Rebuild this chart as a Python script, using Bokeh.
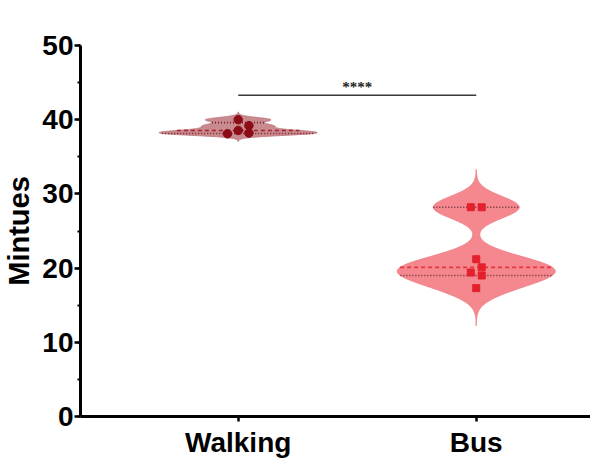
import numpy as np
from bokeh.plotting import figure
from bokeh.models import FixedTicker, SingleIntervalTicker, Range1d
from bokeh.embed import file_html
from bokeh.resources import INLINE

# ---- data ----
categories = ["Walking", "Bus"]
walking_minutes = [40.0, 39.2, 38.1, 38.55, 38.2]
bus_minutes = [28.2, 28.2, 21.2, 20.1, 19.4, 19.0, 17.3]
y_ticks = [0, 10, 20, 30, 40, 50]
sig_label = "****"
sig_level = [43.3]

# ---- styling / layout ----
walking_jitter = [0.0, 0.045, -0.045, 0.0, 0.045]
bus_jitter = [-0.023, 0.023, 0.0, 0.023, -0.023, 0.023, 0.0]
bandwidths = [0.3, 1.45]
fills = ["#c98a8f", "#f4888e"]
edges = ["#bf7c82", "#f08188"]
point_colors = ["#8c0c16", "#e3202c"]
median_colors = ["#a8202e", "#e53540"]
quart_colors = ["#7a1a26", "#5e2a2e"]
half_max = 0.332

FONT = "Liberation Sans"

p = figure(width=590, height=469, output_backend="svg", toolbar_location=None,
           x_range=Range1d(0.3375, 2.48), y_range=Range1d(0, 50),
           min_border_left=79, min_border_right=0, min_border_top=45,
           min_border_bottom=53)
p.outline_line_color = None
p.grid.visible = False
p.background_fill_color = "white"


def kde(data, h, grid):
    d = np.asarray(data)[:, None]
    return np.exp(-0.5 * ((grid[None, :] - d) / h) ** 2).sum(axis=0)


def quartiles(vals):
    s = sorted(vals)
    n = len(s)
    med = float(np.median(s))
    if n % 2 == 1:
        lo, hi = s[: n // 2], s[n // 2 + 1:]
    else:
        lo, hi = s[: n // 2], s[n // 2:]
    return float(np.median(lo)), med, float(np.median(hi))


groups = [walking_minutes, bus_minutes]
jitters = [walking_jitter, bus_jitter]
markers = ["circle", "square"]
msizes = [8.5, 7]

for i, vals in enumerate(groups):
    c = i + 1
    h = bandwidths[i]
    grid = np.linspace(min(vals) - 3.5 * h, max(vals) + 3.5 * h, 400)
    dens = kde(vals, h, grid)
    hw = dens / dens.max() * half_max
    xs = np.concatenate([c + hw, (c - hw)[::-1]])
    ys = np.concatenate([grid, grid[::-1]])
    p.patch(xs, ys, fill_color=fills[i], line_color=edges[i], line_width=1)

    q1, med, q3 = quartiles(vals)
    for yv, col, dash in [(q1, quart_colors[i], "1 2"), (q3, quart_colors[i], "1 2"),
                          (med, median_colors[i], "4 3")]:
        w = float(np.interp(yv, grid, hw))
        p.line([c - w, c + w], [yv, yv], line_color=col, line_width=1.6,
               line_dash=dash)

    xs_pts = [c + j for j in jitters[i]]
    p.scatter(xs_pts, vals, marker=markers[i], size=msizes[i],
              fill_color=point_colors[i], line_color=point_colors[i])

# significance bar
p.line([1, 2], [sig_level[0], sig_level[0]], line_color="#3a3a3a", line_width=1.6)
p.text([1.5], [sig_level[0] + 1.1], text=[sig_label], text_align="center",
       text_baseline="middle", text_font_size="15px", text_font_style="bold",
       text_color="#222222", text_font=FONT)

# axes
for ax in (p.xaxis[0], p.yaxis[0]):
    ax.axis_line_width = 3
    ax.axis_line_color = "black"
    ax.major_tick_line_width = 2.5
    ax.major_tick_line_color = "black"
    ax.major_tick_in = 0
    ax.major_label_text_font = FONT
    ax.major_label_text_font_style = "bold"
    ax.major_label_text_font_size = "28px"
    ax.major_label_text_color = "black"

p.xaxis.ticker = FixedTicker(ticks=[1, 2])
p.xaxis.major_label_overrides = {1: categories[0], 2: categories[1]}
p.xaxis.major_tick_out = 5
p.xaxis.minor_tick_line_color = None
p.xaxis.major_label_standoff = 5

p.yaxis.ticker = SingleIntervalTicker(interval=10, num_minor_ticks=2)
p.yaxis.major_tick_out = 6
p.yaxis.minor_tick_out = 3
p.yaxis.minor_tick_in = 0
p.yaxis.minor_tick_line_width = 2
p.yaxis.minor_tick_line_color = "black"
p.yaxis.major_label_standoff = 1
p.yaxis.axis_label = "Mintues"
p.yaxis.axis_label_text_font = FONT
p.yaxis.axis_label_text_font_style = "bold"
p.yaxis.axis_label_text_font_size = "29px"
p.yaxis.axis_label_text_color = "black"
p.yaxis.axis_label_standoff = 4

open("out.html", "w").write(file_html(p, INLINE))
